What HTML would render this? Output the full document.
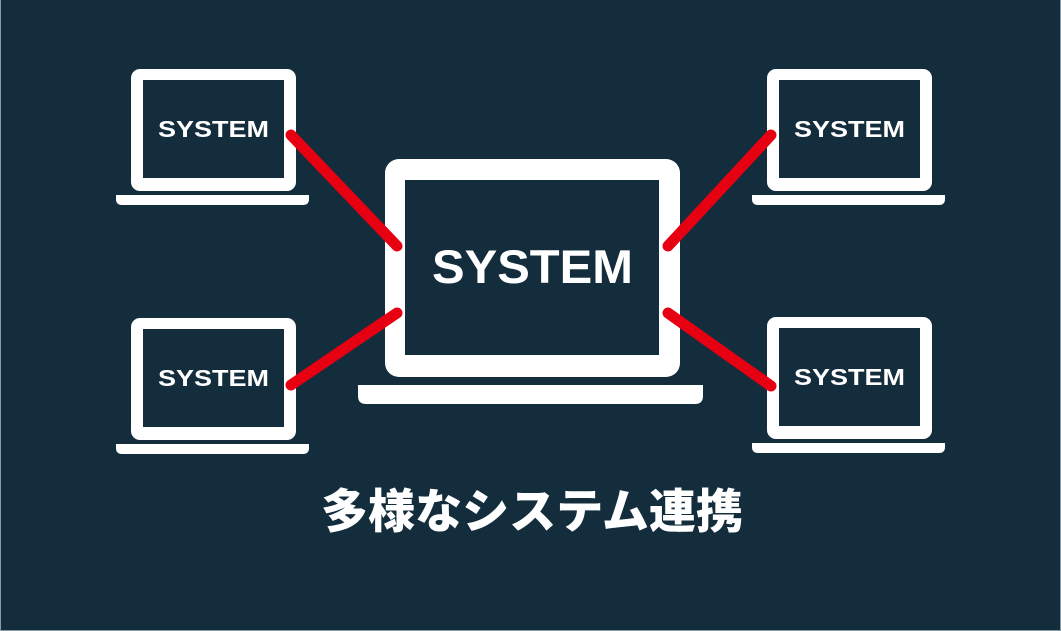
<!DOCTYPE html>
<html><head><meta charset="utf-8"><style>
html,body{margin:0;padding:0;background:#132d3c;}
svg{display:block;}
</style></head><body>
<svg width="1061" height="631" viewBox="0 0 1061 631" xmlns="http://www.w3.org/2000/svg">
<rect x="0" y="0" width="1061" height="631" fill="#132d3c"/>
<line x1="0.5" y1="0" x2="0.5" y2="631" stroke="#8a9aa3" stroke-width="1"/>
<line x1="1060.5" y1="0" x2="1060.5" y2="631" stroke="#8a9aa3" stroke-width="1"/>
<line x1="0" y1="630.5" x2="1061" y2="630.5" stroke="#8a9aa3" stroke-width="1"/>
<defs>
<g id="small">
<rect x="131" y="69" width="165" height="122" rx="9" fill="#fff"/>
<rect x="143" y="80" width="141" height="98" fill="#132d3c"/>
<path d="M116 195 H309 V199 Q309 205 303 205 H122 Q116 205 116 199 Z" fill="#fff"/>
<text x="158" y="137" textLength="111" lengthAdjust="spacingAndGlyphs" font-family="Liberation Sans, sans-serif" font-weight="bold" font-size="23" fill="#fff">SYSTEM</text>
</g>
</defs>
<use href="#small"/>
<use href="#small" transform="translate(636,0)"/>
<use href="#small" transform="translate(0,249)"/>
<use href="#small" transform="translate(636,248)"/>
<rect x="385" y="159" width="295" height="218" rx="14" fill="#fff"/>
<rect x="405" y="180" width="254" height="175" fill="#132d3c"/>
<path d="M358 385 H703 V396 Q703 404 695 404 H366 Q358 404 358 396 Z" fill="#fff"/>
<text x="432" y="283" textLength="201" lengthAdjust="spacingAndGlyphs" font-family="Liberation Sans, sans-serif" font-weight="bold" font-size="47" fill="#fff">SYSTEM</text>
<g stroke="#e60012" stroke-width="11" stroke-linecap="round">
<line x1="291" y1="135" x2="397" y2="246"/>
<line x1="291" y1="385" x2="397" y2="313"/>
<line x1="668" y1="246" x2="771" y2="135"/>
<line x1="668" y1="313" x2="771" y2="386"/>
</g>
<text x="321" y="528" textLength="422" lengthAdjust="spacingAndGlyphs" font-family="Liberation Sans, Noto Sans CJK JP, sans-serif" font-weight="900" font-size="47" fill="#fff">多様なシステム連携</text>
</svg>
</body></html>
